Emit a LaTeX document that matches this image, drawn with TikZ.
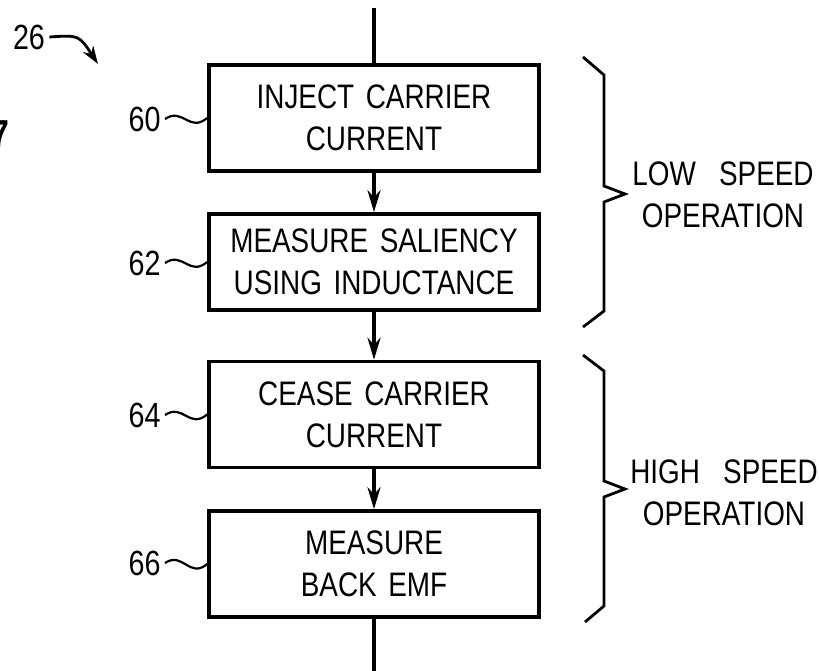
\documentclass[tikz,border=0pt]{standalone}
\usepackage{fontspec}
\setmainfont[FakeStretch=0.82, WordSpace=1.5]{Liberation Sans}
\usetikzlibrary{arrows.meta}

\tikzset{
  stepbox/.style={draw, line width=1.8pt, minimum width=165pt, minimum height=53pt,
    align=center, inner sep=0pt, font=\fontsize{17}{21}\selectfont},
  flow/.style={line width=1.8pt, -{Stealth[length=11pt, width=6.5pt]}},
  lead/.style={line width=1.1pt},
  brace/.style={line width=1.4pt, line join=miter},
  tag/.style={inner sep=2pt, font=\fontsize{17.5}{21}\selectfont},
  phase/.style={inner sep=0pt, align=center, font=\fontsize{17}{21}\selectfont}
}

\begin{document}
\begin{tikzpicture}[x=0.5pt, y=-0.5pt]
\useasboundingbox (0,0) rectangle (819,670);

% flow chart
\node[stepbox] (b60) at (374,118) {INJECT CARRIER\\CURRENT};
\node[stepbox, minimum height=48pt] (b62) at (374,262) {MEASURE SALIENCY\\USING INDUCTANCE};
\node[stepbox] (b64) at (374,414.5) {CEASE CARRIER\\CURRENT};
\node[stepbox] (b66) at (374,564) {MEASURE\\BACK EMF};

\coordinate (top) at (374,8);
\coordinate (bot) at (374,672);
\draw[line width=1.8pt] (top) -- (b60);
\draw[flow] (b60) -- (b62);
\draw[flow] (b62) -- (b64);
\draw[flow] (b64) -- (b66);
\draw[line width=1.8pt] (b66) -- (bot);

% reference numerals
\node[tag, anchor=east] (l60) at (165,119) {60};
\node[tag, anchor=east] (l62) at (165,263) {62};
\node[tag, anchor=east] (l64) at (165,415) {64};
\node[tag, anchor=east] (l66) at (165,563) {66};
\foreach \n in {60,62,64,66}
  \draw[lead] (l\n.east) .. controls +(18,-12) and +(-18,15) .. (b\n.west);

\node[tag] (l26) at (29,37) {26};
\coordinate (a26) at (98,64);
\draw[line width=1.4pt, -{Stealth[length=9pt, width=6pt]}] (l26.east) .. controls (79,35) .. (a26);

\node[anchor=east, inner sep=0pt, font=\bfseries\fontsize{19.5}{22}\selectfont] (fig) at (10,134) {7};

% braces
\draw[brace] (583,57) -- (604,75) -- (604,186) -- (625,194) -- (604,202) -- (604,311) -- (583,327);
\draw[brace] (583,355) -- (604,371) -- (604,481) -- (625,489) -- (604,497) -- (604,606) -- (585,622);

\node[phase] (low) at (723,195) {LOW\ \ SPEED\\OPERATION};
\node[phase] (high) at (724,493) {HIGH\ \ SPEED\\OPERATION};
\end{tikzpicture}
\end{document}
